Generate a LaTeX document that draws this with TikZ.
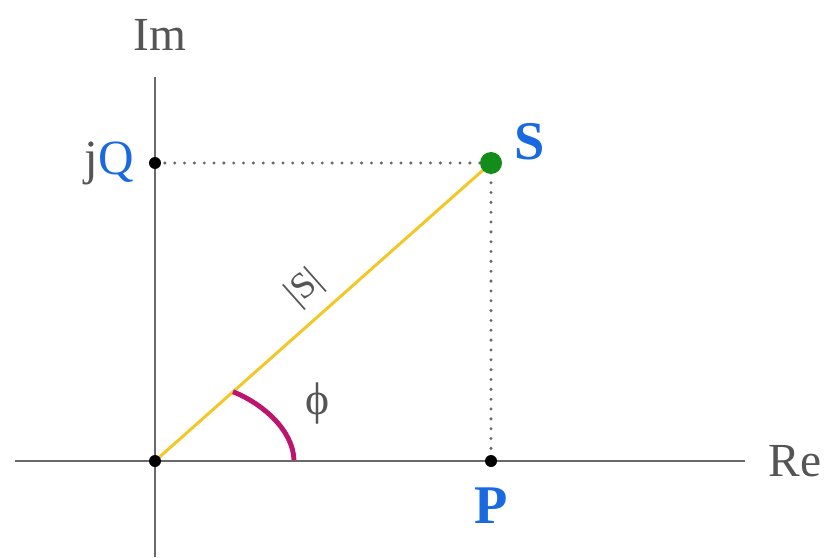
\documentclass[tikz,border=0pt]{standalone}
\usepackage{fontspec}
\setmainfont{Liberation Serif}
\usetikzlibrary{positioning}
\definecolor{axisgray}{RGB}{105,105,105}
\definecolor{txtgray}{RGB}{85,85,85}
\definecolor{lblblue}{RGB}{25,105,225}
\definecolor{vecyellow}{RGB}{242,200,40}
\definecolor{arcmag}{RGB}{190,20,110}
\definecolor{ptgreen}{RGB}{20,140,25}

\begin{document}
\begin{tikzpicture}[axis/.style={draw=axisgray,line width=1.1pt},
  guide/.style={draw=axisgray,line width=1.9pt,line cap=round,dash pattern=on 0pt off 5.6pt},
  dot/.style={circle,fill=black,inner sep=0pt,minimum size=2.4mm},
  axlabel/.style={text=txtgray,font=\fontsize{27}{30}\selectfont},
  bluelabel/.style={text=lblblue,font=\fontsize{31}{34}\selectfont\bfseries}]
\useasboundingbox (-3.1,-1.92) rectangle (13.48,9.22);
% axes
\coordinate (xl) at (-2.8,0); \coordinate (xr) at (11.8,0);
\coordinate (yb) at (0,-1.92); \coordinate (yt) at (0,7.68);
\draw[axis] (xl) -- (xr);
\draw[axis] (yb) -- (yt);
\node[axlabel] (im) at (0.1,8.52) {Im};
\node[axlabel,right=0.35cm of xr] (re) {Re};
% points
\coordinate (o) at (0,0);
\coordinate (s) at (6.72,5.96);
\coordinate (p) at (6.72,0);
\coordinate (q) at (0,5.96);
\draw[guide] (q) -- (s);
\draw[guide] (s) -- (p);
\draw[vecyellow,line width=1.7pt] (o) -- (s);
\node[dot] (od) at (o) {};
\node[dot] (pd) at (p) {};
\node[dot] (qd) at (q) {};
\node[circle,fill=ptgreen,inner sep=0pt,minimum size=4.4mm] (sd) at (s) {};
% angle
\coordinate (a1) at (1.56,1.385); \coordinate (a2) at (2.78,0.02);
\draw[arcmag,line width=2.8pt] (a1) .. controls (2.15,1.15) and (2.76,0.62) .. (a2);
\node[text=txtgray,font=\fontsize{26}{28}\selectfont] (phi) at (3.26,1.14) {ϕ};
\node[text=txtgray,font=\fontsize{21}{23}\selectfont,rotate=41.6,inner sep=0pt] (mag) at (3.0,3.45) {|S|};
% labels
\node[bluelabel] (sl) at (7.5,6.38) {S};
\node[bluelabel,below=0.28cm of pd] (pl) {P};
\node[anchor=east,font=\fontsize{28}{30}\selectfont,inner sep=0pt] (ql) at (-0.42,5.96) {\textcolor{txtgray}{j}\textcolor{lblblue}{Q}};
\end{tikzpicture}
\end{document}
